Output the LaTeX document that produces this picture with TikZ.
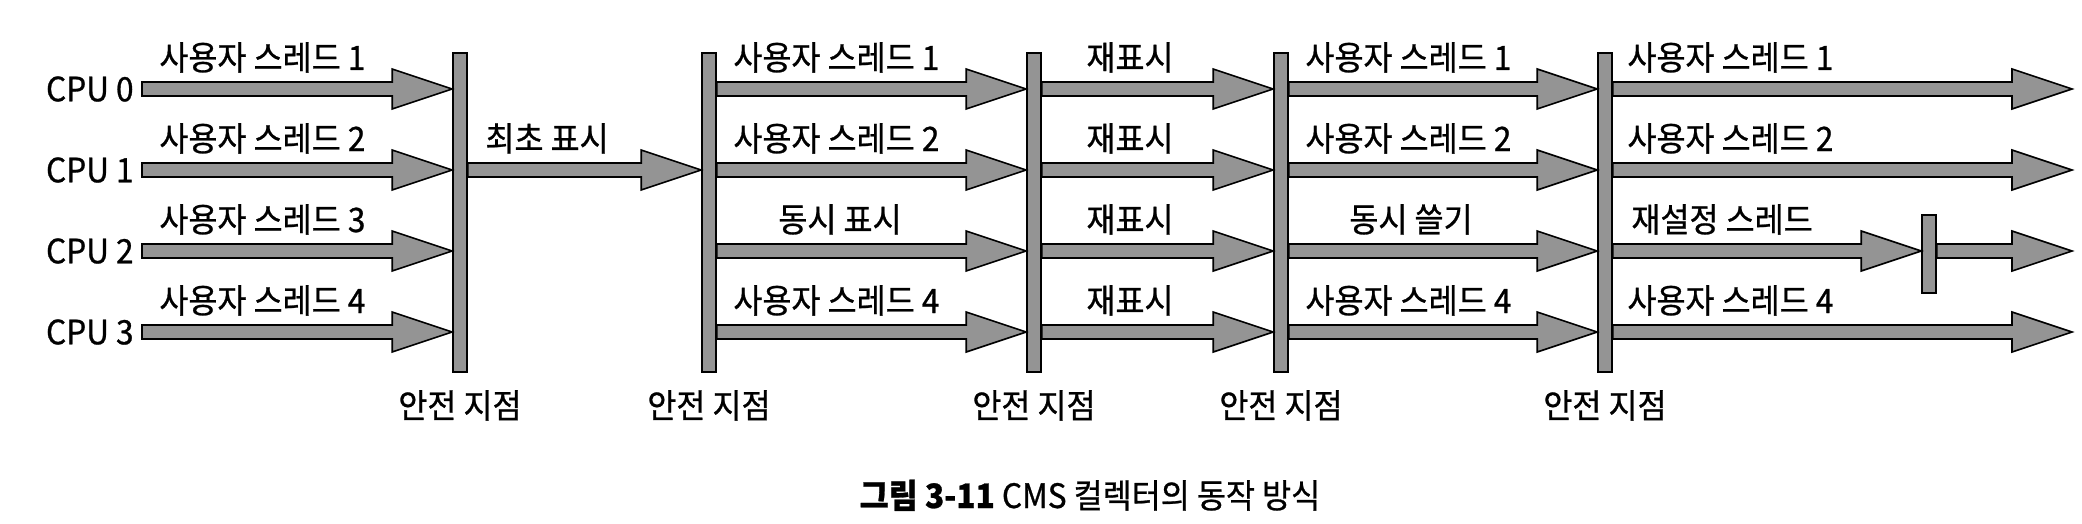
\documentclass[tikz,border=0pt]{standalone}
\usepackage{fontspec}
\setmainfont{Noto Sans CJK KR}[FakeBold=0.8, FakeStretch=0.94]
\usetikzlibrary{calc}
\tikzset{
  fat/.style={to path={let \p1=(\tikztostart), \p2=(\tikztotarget) in
    (\x1,\y1+3.5pt) -- (\x2-30pt,\y1+3.5pt) -- (\x2-30pt,\y1+10pt) -- (\x2,\y1)
    -- (\x2-30pt,\y1-10pt) -- (\x2-30pt,\y1-3.5pt) -- (\x1,\y1-3.5pt) -- cycle}},
  arr/.style={draw=black, fill=black!42, line width=0.8pt},
  bar/.style={draw=black, fill=black!42, line width=0.8pt, inner sep=0pt,
    minimum width=7pt, minimum height=159.5pt},
  lbl/.style={font=\fontsize{16.8}{20}\selectfont, inner sep=0pt},
}
\begin{document}
\begin{tikzpicture}[x=0.5pt, y=-0.5pt]
	\useasboundingbox (0,0) rectangle (2082,524);
	\coordinate (sl) at (0,418);
	\foreach \i/\y in {0/89,1/170,2/251,3/332}{
		\coordinate (r\i) at (0,\y);
		\coordinate (s\i) at (142,\y);
		\coordinate (e\i) at (2072,\y);
		\node[lbl, anchor=east] (cpu\i) at (134,\y) {CPU \i};
	}
	\node[bar] (b1) at (460,212.5) {};
	\node[bar] (b2) at (709,212.5) {};
	\node[bar] (b3) at (1034,212.5) {};
	\node[bar] (b4) at (1281,212.5) {};
	\node[bar] (b5) at (1605,212.5) {};
	\node[bar, minimum height=39pt] (b6) at (1929,254) {};
	\foreach \i in {0,1,2,3}{
		\draw[arr] (s\i) to[fat] (b1.west |- r\i);
		\draw[arr] (b2.east |- r\i) to[fat] (b3.west |- r\i);
		\draw[arr] (b3.east |- r\i) to[fat] (b4.west |- r\i);
		\draw[arr] (b4.east |- r\i) to[fat] (b5.west |- r\i);
	}
	\foreach \i in {0,1,3}
		\draw[arr] (b5.east |- r\i) to[fat] (e\i);
	\draw[arr] (b1.east |- r1) to[fat] (b2.west |- r1);
	\draw[arr] (b5.east |- r2) to[fat] (b6.west |- r2);
	\draw[arr] (b6.east |- r2) to[fat] (e2);
	\foreach \i/\y/\n in {0/89/1,1/170/2,2/251/3,3/332/4}{
		\node[lbl, anchor=base west] (ua\i) at (159,\y-19) {사용자 스레드 \n};
		\node[lbl, anchor=base] (uc\i) at (1130,\y-19) {재표시};
	}
	\foreach \i/\y/\n in {0/89/1,1/170/2,3/332/4}{
		\node[lbl, anchor=base west] (ub\i) at (733,\y-19) {사용자 스레드 \n};
		\node[lbl, anchor=base west] (ud\i) at (1305,\y-19) {사용자 스레드 \n};
		\node[lbl, anchor=base west] (ue\i) at (1627,\y-19) {사용자 스레드 \n};
	}
	\node[lbl, anchor=base west] (init) at (485,151) {최초 표시};
	\node[lbl, anchor=base] (ub2) at (840,232) {동시 표시};
	\node[lbl, anchor=base] (ud2) at (1411,232) {동시 쓸기};
	\node[lbl, anchor=base west] (ue2) at (1631,232) {재설정 스레드};
	\foreach \b in {1,...,5}
		\node[lbl, anchor=base] (sp\b) at (b\b |- sl) {안전 지점};
	\node[lbl, anchor=base] (cap) at (1090,508) {\textbf{그림 3-11} CMS 컬렉터의 동작 방식};
\end{tikzpicture}
\end{document}
